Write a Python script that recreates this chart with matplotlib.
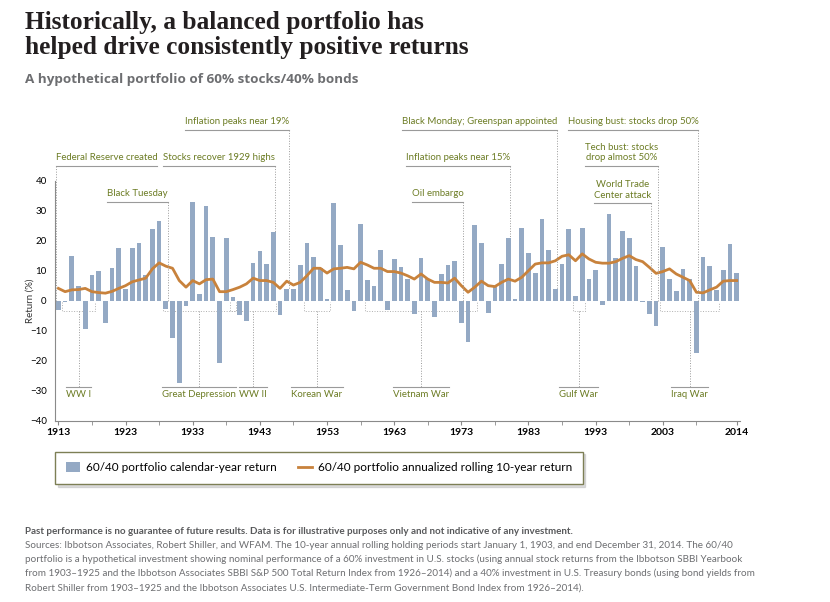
import numpy as np
import matplotlib.pyplot as plt
from matplotlib.lines import Line2D
from matplotlib.patches import Patch

NARROW = ['Lato', 'DejaVu Sans']

years = np.arange(1913, 2015)

# 60/40 calendar-year return (%)
calendar_return = [
    -3.0, -0.5, 15.0, 5.0, -9.2, 8.5, 10.0, -7.5, 11.0, 17.7,      # 1913-1922
    4.0, 17.7, 19.3, 8.8, 24.0, 26.7, -2.7, -12.4, -27.2, -1.7,    # 1923-1932
    33.0, 2.4, 31.5, 21.3, -20.7, 21.1, 1.4, -4.8, -6.8, 12.8,     # 1933-1942
    16.6, 12.4, 22.9, -4.8, 3.9, 3.9, 12.1, 19.4, 14.6, 11.0,      # 1943-1952
    0.8, 32.6, 18.8, 3.6, -3.4, 25.6, 6.9, 5.0, 16.9, -3.1,        # 1953-1962
    14.1, 11.3, 7.4, -4.4, 14.4, 7.2, -5.3, 8.9, 12.1, 13.4,       # 1963-1972
    -7.2, -13.7, 25.2, 19.4, -4.1, 5.0, 12.4, 21.1, 0.6, 24.4,     # 1973-1982
    16.1, 9.3, 27.2, 16.9, 4.1, 12.4, 24.1, 1.7, 24.4, 7.2,        # 1983-1992
    10.4, -1.2, 29.1, 14.3, 23.2, 21.1, 11.7, -0.4, -4.2, -8.3,    # 1993-2002
    18.0, 7.2, 3.3, 10.8, 7.2, -17.2, 14.8, 11.7, 3.6, 10.3,       # 2003-2012
    19.0, 9.3,                                                     # 2013-2014
]

# annualized rolling 10-year return (%)
rolling_10yr = [
    4.2, 3.1, 3.7, 3.8, 4.2, 3.1, 2.8, 2.6, 3.2, 4.2,
    5.1, 6.4, 7.0, 7.6, 10.7, 12.7, 11.6, 10.9, 6.8, 4.6,
    6.8, 5.7, 7.1, 7.3, 3.1, 3.1, 3.8, 4.6, 5.7, 7.6,
    6.8, 6.8, 6.2, 4.2, 6.6, 5.3, 6.2, 8.4, 10.9, 10.9,
    9.3, 10.7, 10.9, 11.2, 10.7, 12.9, 12.0, 10.9, 10.9, 9.8,
    9.8, 9.3, 8.4, 7.3, 9.0, 7.3, 6.2, 6.2, 6.0, 7.6,
    5.1, 2.9, 4.6, 6.6, 5.1, 4.8, 6.2, 7.3, 6.6, 7.9,
    10.1, 12.3, 12.7, 12.7, 13.4, 14.9, 15.4, 13.4, 15.7, 14.0,
    12.9, 12.6, 12.6, 13.1, 14.2, 15.1, 13.8, 13.1, 11.2, 9.2,
    9.8, 10.7, 9.0, 7.9, 6.8, 2.9, 2.7, 3.7, 4.6, 6.6,
    6.8, 6.8,
]

# events above the bars: text, year, underline level (%), text side
event_text = ["Federal Reserve created", "Stocks recover 1929 highs", "Inflation peaks near 19%",
              "Black Tuesday", "Black Monday; Greenspan appointed", "Inflation peaks near 15%",
              "Oil embargo", "Housing bust: stocks drop 50%", "Tech bust: stocks\ndrop almost 50%",
              "World Trade\nCenter attack"]
event_year = [1913, 1945, 1947, 1929, 1987, 1980, 1973, 2008, 2002, 2001]
event_level = [45, 45, 57, 33, 57, 45, 33, 57, 45, 32.5]
event_side = ['left', 'right', 'right', 'right', 'right', 'right', 'right', 'right', 'right', 'right']

# periods below the bars
period_text = ["WW I", "Great Depression", "WW II", "Korean War", "Vietnam War", "Gulf War", "Iraq War"]
period_start = [1914, 1929, 1939, 1950, 1959, 1990, 2003]
period_end = [1918, 1939, 1945, 1953, 1975, 1991, 2011]

tick_years = [1913, 1923, 1933, 1943, 1953, 1963, 1973, 1983, 1993, 2003, 2014]

BAR = '#94a9c4'
ORANGE = '#c8823c'
OLIVE = '#6c7c24'
GREY = '#9a9a9a'

fig = plt.figure(figsize=(8.3, 6.02), dpi=100)
ax = fig.add_axes([0.0663, 0.3007, 0.8253, 0.3987])

ax.bar(years, calendar_return, width=0.7, color=BAR, zorder=2)
ax.plot(years, rolling_10yr, color=ORANGE, lw=2, zorder=3)

ax.set_xlim(1912.5, 2014.5)
ax.set_ylim(-40, 40)
ax.set_yticks(range(-40, 41, 10))
ax.set_xticks(tick_years)
ax.set_xticks(range(1918, 2010, 10), minor=True)
for s in ['top', 'right']:
    ax.spines[s].set_visible(False)
for s in ['left', 'bottom']:
    ax.spines[s].set_color('#8a8a8a')
    ax.spines[s].set_linewidth(0.8)
ax.tick_params(axis='y', length=0, pad=6, labelsize=7)
ax.tick_params(axis='x', which='both', length=3, color='#8a8a8a', labelsize=7.5, pad=2)
for lab in ax.get_xticklabels() + ax.get_yticklabels():
    lab.set_family(NARROW)
for lab in ax.get_xticklabels():
    lab.set_fontweight('bold')
fig.text(30 / 830, 1 - 301 / 602, 'Return (%)', rotation=90, ha='center', va='center',
         fontsize=7, family=NARROW, color='#333333')

r = fig.canvas.get_renderer()
inv = ax.transData.inverted()
vals = dict(zip(years, calendar_return))

# event labels with underline and dotted drop line
for txt, yr, lvl, side in zip(event_text, event_year, event_level, event_side):
    xline = yr + (0.3 if side == 'right' else -0.4)
    t = ax.text(xline, lvl + 1.2, txt, ha=side, va='bottom', multialignment='center',
                fontsize=6.9, color=OLIVE, family=NARROW, clip_on=False)
    bb = t.get_window_extent(renderer=r)
    x0 = inv.transform((bb.x0, 0))[0]
    x1 = inv.transform((bb.x1, 0))[0]
    ax.plot([x0, x1], [lvl, lvl], color=GREY, lw=0.8, clip_on=False, zorder=4)
    ax.plot([xline, xline], [lvl, max(vals[yr], 0)], color=GREY, lw=0.7, ls=':',
            clip_on=False, zorder=4)

# period brackets below the bars
for txt, a, b in zip(period_text, period_start, period_end):
    xa, xb = a - 0.4, b + 0.4
    xm = (a + b) / 2
    ax.plot([xa, xa, xb, xb], [-0.3, -3.3, -3.3, -0.3], color='#b0b0b0', lw=0.7, ls=':', zorder=1)
    ax.plot([xm, xm], [-3.3, -28.7], color=GREY, lw=0.7, ls=':', zorder=1)
    t = ax.text(xm, -29.6, txt, ha='center', va='top', fontsize=6.9, color=OLIVE, family=NARROW)
    bb = t.get_window_extent(renderer=r)
    x0 = inv.transform((bb.x0, 0))[0]
    x1 = inv.transform((bb.x1, 0))[0]
    ax.plot([x0, x1], [-28.7, -28.7], color=GREY, lw=0.8, zorder=4)

handles = [Patch(facecolor=BAR, edgecolor='none'), Line2D([], [], color=ORANGE, lw=2)]
leg = ax.legend(handles, ['60/40 portfolio calendar-year return',
                          '60/40 portfolio annualized rolling 10-year return'],
                loc='center left', bbox_to_anchor=(0.0, -0.195), ncol=2, frameon=True,
                fancybox=False, shadow={'color': '#bbbbbb'}, prop={'family': NARROW, 'size': 8.5},
                handlelength=1.2, handleheight=0.9, columnspacing=1.8, borderpad=0.9,
                handletextpad=0.5, borderaxespad=0)
leg.get_frame().set_edgecolor('#7d7f55')
leg.get_frame().set_linewidth(1.0)

fig.text(25 / 830, 1 - 11 / 602,
         'Historically, a balanced portfolio has\nhelped drive consistently positive returns',
         ha='left', va='top', fontsize=18.3, fontweight='bold', family=['Liberation Serif', 'DejaVu Serif'],
         color='#231f20', linespacing=1.1)
fig.text(25 / 830, 1 - 79 / 602, 'A hypothetical portfolio of 60% stocks/40% bonds',
         ha='left', va='center', fontsize=9.7, fontweight='bold', family=['Open Sans', 'DejaVu Sans'],
         color='#6d6e71')

notes = [
    'Sources: Ibbotson Associates, Robert Shiller, and WFAM. The 10-year annual rolling holding periods start January 1, 1903, and end December 31, 2014. The 60/40',
    'portfolio is a hypothetical investment showing nominal performance of a 60% investment in U.S. stocks (using annual stock returns from the Ibbotson SBBI Yearbook',
    'from 1903\u20131925 and the Ibbotson Associates SBBI S&P 500 Total Return Index from 1926\u20132014) and a 40% investment in U.S. Treasury bonds (using bond yields from',
    'Robert Shiller from 1903\u20131925 and the Ibbotson Associates U.S. Intermediate-Term Government Bond Index from 1926\u20132014).',
]
fig.text(25 / 830, 1 - 531 / 602,
         'Past performance is no guarantee of future results. Data is for illustrative purposes only and not indicative of any investment.',
         ha='left', va='center', fontsize=7.1, fontweight='bold', family=NARROW, color='#58595b')
for i, line in enumerate(notes):
    fig.text(25 / 830, 1 - (545 + 14.3 * i) / 602, line, ha='left', va='center',
             fontsize=7.1, family=NARROW, color='#6d6e71')

fig.savefig('out.png', dpi=100, facecolor='white')
